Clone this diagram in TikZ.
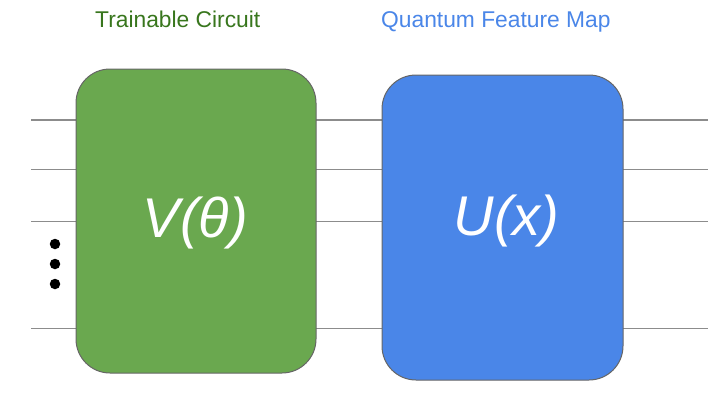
\documentclass[tikz,border=0pt]{standalone}
\usepackage{fontspec}
\setmainfont{Liberation Sans}
\definecolor{boxgreen}{HTML}{6AA84F}
\definecolor{boxblue}{HTML}{4A86E8}
\definecolor{titlegreen}{HTML}{38761D}
\definecolor{titleblue}{HTML}{4A86E8}
\definecolor{wiregray}{HTML}{8C8C8C}
\definecolor{bordergray}{HTML}{666666}
\begin{document}
\begin{tikzpicture}[x=1pt,y=-1pt,
  gatebox/.style={draw=bordergray, line width=1pt, rounded corners=34pt, inner sep=0pt, rectangle},
  wire/.style={draw=wiregray, line width=1.3pt},
  gatelabel/.style={text=white, font=\fontsize{56}{60}\selectfont\itshape, anchor=base, inner sep=0pt},
  titletext/.style={font=\fontsize{22.8}{26}\selectfont, anchor=base west, inner sep=0pt},
  dotmark/.style={circle, fill=black, inner sep=0pt, minimum size=10.5pt}]
\useasboundingbox (0,0) rectangle (726,416);
% wire end points
\foreach \i/\y in {1/120,2/169.5,3/221.5,4/328.5}{
  \coordinate (wl\i) at (31,\y);
  \coordinate (wr\i) at (708,\y);
}
\foreach \i in {1,2,3,4}{
  \draw[wire] (wl\i) -- (wr\i);
}
% gates
\node[gatebox, fill=boxgreen, minimum width=240pt, minimum height=304pt] (V) at (196,221) {};
\node[gatebox, fill=boxblue, minimum width=241pt, minimum height=305pt] (U) at (502.5,227.5) {};
\node[gatelabel] (Vlab) at (195.5,237) {V(θ)};
\node[gatelabel] (Ulab) at (506.5,235) {U(x)};
% titles
\node[titletext, text=titlegreen] (tV) at (95,27) {Trainable Circuit};
\node[titletext, text=titleblue] (tU) at (381,27) {Quantum Feature Map};
% vertical ellipsis
\node[dotmark] (d1) at (55,244) {};
\node[dotmark] (d2) at (55,264) {};
\node[dotmark] (d3) at (55,284) {};
\end{tikzpicture}
\end{document}
